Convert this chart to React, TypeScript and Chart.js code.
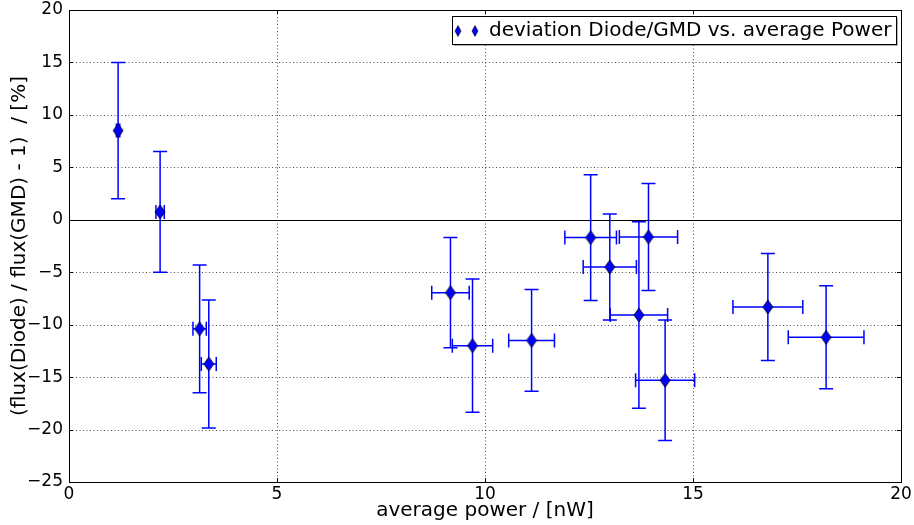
import React, { useEffect, useRef } from "react";
import { Chart, registerables } from "chart.js";

Chart.register(...registerables);

const xValues = [1.18, 2.19, 3.14, 3.36, 9.17, 9.7, 11.12, 12.54, 13.0, 13.93, 13.7, 14.33, 16.8, 18.2];
const yValues = [8.5, 0.75, -10.4, -13.75, -6.95, -12.0, -11.5, -1.7, -4.5, -1.64, -9.08, -15.3, -8.31, -11.2];
const xErrors = [0.04, 0.1, 0.16, 0.18, 0.45, 0.485, 0.55, 0.62, 0.64, 0.7, 0.69, 0.71, 0.84, 0.91];
const yErrors = [6.5, 5.75, 6.1, 6.1, 5.25, 6.35, 4.85, 6.0, 5.05, 5.1, 8.9, 5.75, 5.1, 4.9];

const xTicks = [0, 5, 10, 15, 20];
const yTicks = [-25, -20, -15, -10, -5, 0, 5, 10, 15, 20];

const xTitle = "average power / [nW]";
const yTitle = "(flux(Diode) / flux(GMD) - 1)  / [%]";
const legendLabel = "deviation Diode/GMD vs. average Power";

const FONT = "'DejaVu Sans', sans-serif";
const BLUE = "#0000ff";

function makeDiamond(w: number, h: number): HTMLCanvasElement {
  const c = document.createElement("canvas");
  c.width = w + 2;
  c.height = h + 2;
  const ctx = c.getContext("2d")!;
  const cx = (w + 2) / 2;
  const cy = (h + 2) / 2;
  ctx.beginPath();
  ctx.moveTo(cx, 1);
  ctx.lineTo(w + 1, cy);
  ctx.lineTo(cx, h + 1);
  ctx.lineTo(1, cy);
  ctx.closePath();
  ctx.fillStyle = BLUE;
  ctx.fill();
  ctx.strokeStyle = "#000";
  ctx.lineWidth = 0.8;
  ctx.stroke();
  return c;
}

function diamondPath(ctx: CanvasRenderingContext2D, cx: number, cy: number, w: number, h: number) {
  ctx.beginPath();
  ctx.moveTo(cx, cy - h / 2);
  ctx.lineTo(cx + w / 2, cy);
  ctx.lineTo(cx, cy + h / 2);
  ctx.lineTo(cx - w / 2, cy);
  ctx.closePath();
}

const errorBarPlugin = {
  id: "errorBars",
  beforeDatasetsDraw(chart: any) {
    const { ctx, chartArea: a, scales } = chart;
    const xs = scales.x;
    const ys = scales.y;
    ctx.save();
    ctx.strokeStyle = "#000";
    ctx.lineWidth = 0.7;
    ctx.setLineDash([1, 2.5]);
    for (const t of xTicks) {
      const px = Math.round(xs.getPixelForValue(t)) + 0.5;
      ctx.beginPath();
      ctx.moveTo(px, a.top);
      ctx.lineTo(px, a.bottom);
      ctx.stroke();
    }
    for (const t of yTicks) {
      const py = Math.round(ys.getPixelForValue(t)) + 0.5;
      ctx.beginPath();
      ctx.moveTo(a.left, py);
      ctx.lineTo(a.right, py);
      ctx.stroke();
    }
    ctx.setLineDash([]);
    const zy = Math.round(ys.getPixelForValue(0)) + 0.5;
    ctx.lineWidth = 1;
    ctx.beginPath();
    ctx.moveTo(a.left, zy);
    ctx.lineTo(a.right, zy);
    ctx.stroke();
    ctx.strokeStyle = BLUE;
    ctx.lineWidth = 1.5;
    const cap = 7;
    for (let i = 0; i < xValues.length; i++) {
      const px = xs.getPixelForValue(xValues[i]);
      const py = ys.getPixelForValue(yValues[i]);
      const x0 = xs.getPixelForValue(xValues[i] - xErrors[i]);
      const x1 = xs.getPixelForValue(xValues[i] + xErrors[i]);
      const y0 = ys.getPixelForValue(yValues[i] - yErrors[i]);
      const y1 = ys.getPixelForValue(yValues[i] + yErrors[i]);
      ctx.beginPath();
      ctx.moveTo(x0, py);
      ctx.lineTo(x1, py);
      ctx.moveTo(px, y0);
      ctx.lineTo(px, y1);
      ctx.moveTo(x0, py - cap);
      ctx.lineTo(x0, py + cap);
      ctx.moveTo(x1, py - cap);
      ctx.lineTo(x1, py + cap);
      ctx.moveTo(px - cap, y0);
      ctx.lineTo(px + cap, y0);
      ctx.moveTo(px - cap, y1);
      ctx.lineTo(px + cap, y1);
      ctx.stroke();
    }
    ctx.restore();
  },
  afterDraw(chart: any) {
    const { ctx, chartArea: a, scales } = chart;
    const xs = scales.x;
    const ys = scales.y;
    ctx.save();
    ctx.strokeStyle = "#000";
    ctx.lineWidth = 1;
    ctx.strokeRect(Math.round(a.left) + 0.5, Math.round(a.top) + 0.5, Math.round(a.right - a.left), Math.round(a.bottom - a.top));
    const tl = 4;
    ctx.beginPath();
    for (const t of xTicks) {
      const px = Math.round(xs.getPixelForValue(t)) + 0.5;
      ctx.moveTo(px, a.bottom);
      ctx.lineTo(px, a.bottom - tl);
      ctx.moveTo(px, a.top);
      ctx.lineTo(px, a.top + tl);
    }
    for (const t of yTicks) {
      const py = Math.round(ys.getPixelForValue(t)) + 0.5;
      ctx.moveTo(a.left, py);
      ctx.lineTo(a.left + tl, py);
      ctx.moveTo(a.right, py);
      ctx.lineTo(a.right - tl, py);
    }
    ctx.stroke();
    // legend
    const lx = 452, ly = 16, lw = 444, lh = 28;
    ctx.fillStyle = "rgba(0,0,0,0.3)";
    ctx.fillRect(lx + 2, ly + 2, lw, lh);
    ctx.fillStyle = "#fff";
    ctx.fillRect(lx, ly, lw, lh);
    ctx.strokeStyle = "#000";
    ctx.lineWidth = 1;
    ctx.strokeRect(lx + 0.5, ly + 0.5, lw, lh);
    for (const dx of [6, 23]) {
      diamondPath(ctx, lx + dx, ly + lh / 2 + 1, 6, 11);
      ctx.fillStyle = BLUE;
      ctx.fill();
      ctx.strokeStyle = "#000";
      ctx.lineWidth = 0.6;
      ctx.stroke();
    }
    ctx.fillStyle = "#000";
    ctx.font = `20px ${FONT}`;
    ctx.textBaseline = "middle";
    ctx.textAlign = "left";
    ctx.fillText(legendLabel, lx + 37, ly + lh / 2 + 1);
    ctx.restore();
  },
};

export default function App() {
  const ref = useRef<HTMLCanvasElement | null>(null);
  useEffect(() => {
    if (!ref.current) return;
    const diamond = makeDiamond(10, 14);
    const fmt = (v: any) => String(v).replace("-", "\u2212");
    const chart = new Chart(ref.current, {
      type: "scatter",
      data: {
        datasets: [
          {
            label: legendLabel,
            data: xValues.map((x, i) => ({ x, y: yValues[i] })),
            pointStyle: diamond as any,
            pointRadius: 7,
            showLine: false,
          },
        ],
      },
      options: {
        animation: false,
        responsive: false,
        maintainAspectRatio: false,
        layout: { padding: { left: 0, right: 0, top: 0, bottom: 0 } },
        plugins: { legend: { display: false }, tooltip: { enabled: false } },
        scales: {
          x: {
            type: "linear",
            min: 0,
            max: 20,
            afterBuildTicks: (s: any) => {
              s.ticks = xTicks.map((v) => ({ value: v }));
            },
            afterFit: (s: any) => {
              s.height = 43;
            },
            grid: { display: false, drawTicks: false },
            border: { display: false },
            ticks: { font: { family: FONT, size: 17 }, color: "#000", padding: 2.2, maxRotation: 0, callback: fmt },
            title: { display: true, text: xTitle, color: "#000", font: { family: FONT, size: 20 }, padding: { top: 0, bottom: 2 } },
          },
          y: {
            type: "linear",
            min: -25,
            max: 20,
            afterBuildTicks: (s: any) => {
              s.ticks = yTicks.map((v) => ({ value: v }));
            },
            afterFit: (s: any) => {
              s.width = 69;
            },
            grid: { display: false, drawTicks: false },
            border: { display: false },
            ticks: { font: { family: FONT, size: 17, lineHeight: 0.47 }, color: "#000", padding: 6, callback: fmt },
            title: { display: true, text: yTitle, color: "#000", font: { family: FONT, size: 20 }, padding: { top: 8, bottom: 0 } },
          },
        },
      },
      plugins: [errorBarPlugin],
    } as any);
    return () => chart.destroy();
  }, []);
  return (
    <div style={{ position: "absolute", left: 0, top: 0, width: 914, height: 525, background: "#fff" }}>
      <canvas ref={ref} width={914} height={525} style={{ display: "block" }} />
    </div>
  );
}
